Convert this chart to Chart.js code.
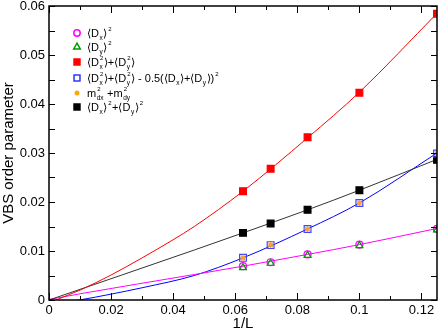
<!DOCTYPE html>
<html>
<head>
<meta charset="UTF-8">
<title>VBS order parameter</title>
<script src="https://cdn.jsdelivr.net/npm/chart.js"></script>
<style>
  html, body { margin: 0; padding: 0; background: #fff; }
  #wrap { width: 443px; height: 331px; }
</style>
</head>
<body>
<div id="wrap"><canvas id="chart" width="443" height="331"></canvas></div>
<script>
// measured points, x = 1/L
const invL = [0.0625, 0.0714, 0.0833, 0.1, 0.125];
const dxSq = [0.0069, 0.0077, 0.0093, 0.0113, 0.0145];     // <Dx>^2, magenta circles
const dySq = [0.0066, 0.0075, 0.0091, 0.0111, 0.0143];     // <Dy>^2, green triangles
const d2Sum = [0.0222, 0.0268, 0.0332, 0.0423, 0.0584];    // <Dx^2>+<Dy^2>, red
const d2Corr = [0.0086, 0.0112, 0.0145, 0.0198, 0.0299];   // blue open squares
const mSq = [0.0086, 0.0112, 0.0145, 0.0198, 0.0299];      // m_dx^2+m_dy^2, orange
const dSqSum = [0.0137, 0.0156, 0.0184, 0.0224, 0.0286];   // <Dx>^2+<Dy>^2, black

// fit curves
const redFitX = [0, 0.0023, 0.0103, 0.02, 0.03, 0.04, 0.0468, 0.0625, 0.0833, 0.1, 0.125];
const redFitY = [-0.0007, 0, 0.0021, 0.0051, 0.0086, 0.0123, 0.0150, 0.0222, 0.0331, 0.0424, 0.0585];
const blackFitX = [0, 0.0468, 0.0625, 0.0833, 0.1, 0.125];
const blackFitY = [0, 0.0102, 0.0137, 0.0184, 0.0224, 0.0287];
const magFitX = [0, 0.0103, 0.0468, 0.0625, 0.0833, 0.1, 0.125];
const magFitY = [0.0001, 0.0013, 0.0052, 0.0069, 0.0093, 0.0113, 0.0146];
const blueFitX = [0, 0.0098, 0.02, 0.03, 0.0468, 0.0625, 0.0833, 0.1, 0.125];
const blueFitY = [-0.0009, 0, 0.0012, 0.0025, 0.0050, 0.0086, 0.0145, 0.0198, 0.0300];

const xTicks = [0, 0.02, 0.04, 0.06, 0.08, 0.1, 0.12];
const yTicks = [0, 0.01, 0.02, 0.03, 0.04, 0.05, 0.06];

const FONT = "'Liberation Sans', Arial, Helvetica, sans-serif";

const pts = (xs, ys) => xs.map((x, i) => ({ x: x, y: ys[i] }));

function fitLine(xs, ys, color) {
    return {
        data: pts(xs, ys),
        borderColor: color,
        borderWidth: 1,
        pointRadius: 0,
        cubicInterpolationMode: 'monotone',
        showLine: true,
        order: 10
    };
}

function markers(ys, style, radius, fill, stroke, order) {
    return {
        data: pts(invL, ys),
        showLine: false,
        pointStyle: style,
        pointRadius: radius,
        pointBackgroundColor: fill,
        pointBorderColor: stroke,
        pointBorderWidth: 1.2,
        order: order
    };
}

// legend entries: plain text, sub, sup pieces
const legendRows = [
    { style: 'circle', color: '#ff00ff', fill: false, r: 3.2, y: 33,
      parts: [{t: '\u27e8D'}, {sub: 'x'}, {t: '\u27e9'}, {sup: '2'}] },
    { style: 'triangle', color: '#009900', fill: false, r: 3.8, y: 47,
      parts: [{t: '\u27e8D'}, {sub: 'y'}, {t: '\u27e9'}, {sup: '2'}] },
    { style: 'rect', color: '#ff0000', fill: true, r: 4.2, y: 62,
      parts: [{t: '\u27e8D'}, {sub: 'x', sup: '2'}, {t: '\u27e9+\u27e8D'}, {sub: 'y', sup: '2'}, {t: '\u27e9'}] },
    { style: 'rect', color: '#3333ff', fill: false, r: 4.2, y: 78,
      parts: [{t: '\u27e8D'}, {sub: 'x', sup: '2'}, {t: '\u27e9+\u27e8D'}, {sub: 'y', sup: '2'}, {t: '\u27e9 - 0.5(\u27e8D'},
              {sub: 'x'}, {t: '\u27e9+\u27e8D'}, {sub: 'y'}, {t: '\u27e9)'}, {sup: '2'}] },
    { style: 'star', color: '#ffa500', fill: true, r: 2.5, y: 93,
      parts: [{t: 'm'}, {sub: 'dx', sup: '2'}, {t: ' +m'}, {sub: 'dy', sup: '2'}] },
    { style: 'rect', color: '#000000', fill: true, r: 4.2, y: 107,
      parts: [{t: '\u27e8D'}, {sub: 'x'}, {t: '\u27e9'}, {sup: '2'}, {t: '+\u27e8D'}, {sub: 'y'}, {t: '\u27e9'}, {sup: '2'}] }
];

function drawRich(ctx, parts, x, y) {
    ctx.textBaseline = 'alphabetic';
    ctx.textAlign = 'left';
    const base = y + 4;
    for (const p of parts) {
        if (p.t !== undefined) {
            ctx.font = '11px ' + FONT;
            ctx.fillText(p.t, x, base);
            x += ctx.measureText(p.t).width;
            continue;
        }
        let w = 0;
        if (p.sub) {
            ctx.font = '6.5px ' + FONT;
            ctx.fillText(p.sub, x + 0.5, base + 2.5);
            w = Math.max(w, ctx.measureText(p.sub).width);
        }
        if (p.sup) {
            ctx.font = '6px ' + FONT;
            ctx.fillText(p.sup, x + 1, base - 6);
            w = Math.max(w, ctx.measureText(p.sup).width + 0.5);
        }
        x += w + 1;
    }
}

const framePlugin = {
    id: 'frame',
    afterDraw(chart) {
        const ctx = chart.ctx;
        const a = chart.chartArea;
        const xs = chart.scales.x, ys = chart.scales.y;
        ctx.save();
        ctx.strokeStyle = '#000';
        ctx.lineWidth = 1;
        ctx.beginPath();
        // x ticks, inward on bottom and top
        for (let v = 0; v <= 0.1251; v += 0.01) {
            const px = Math.round(xs.getPixelForValue(v)) + 0.5;
            const major = Math.round(v * 100) % 2 === 0;
            const len = major ? 7 : 4;
            ctx.moveTo(px, a.bottom); ctx.lineTo(px, a.bottom - len);
            ctx.moveTo(px, a.top); ctx.lineTo(px, a.top + len);
        }
        // y ticks, inward on left and right
        for (let v = 0; v <= 0.0601; v += 0.005) {
            const py = Math.round(ys.getPixelForValue(v)) + 0.5;
            const len = 6;
            ctx.moveTo(a.left, py); ctx.lineTo(a.left + len, py);
            ctx.moveTo(a.right, py); ctx.lineTo(a.right - len, py);
        }
        ctx.stroke();
        ctx.lineWidth = 1.5;
        ctx.strokeRect(a.left, a.top, a.right - a.left, a.bottom - a.top);

        // legend
        for (const row of legendRows) {
            const mx = 77, my = row.y;
            ctx.strokeStyle = row.color;
            ctx.fillStyle = row.fill ? row.color : '#ffffff';
            Chart.helpers.drawPoint(ctx, {
                pointStyle: row.style, radius: row.r, rotation: 0,
                borderWidth: row.style === 'star' ? 1.5 : 1.3
            }, mx, my);
            ctx.fillStyle = '#000';
            drawRich(ctx, row.parts, 87, my);
        }
        ctx.restore();
    }
};

const datasets = [
    fitLine(redFitX, redFitY, '#ff0000'),
    fitLine(blackFitX, blackFitY, '#333333'),
    fitLine(magFitX, magFitY, '#ff00ff'),
    fitLine(blueFitX, blueFitY, '#0000ff'),
    markers(dSqSum, 'rect', 4.8, '#000000', '#000000', 6),
    markers(d2Sum, 'rect', 4.8, '#ff0000', '#ff0000', 5),
    markers(d2Corr, 'rect', 4.8, 'rgba(0,0,0,0)', '#4444ff', 4),
    markers(mSq, 'star', 3, '#ffa500', '#f5a030', 3),
    markers(dxSq, 'circle', 3.5, 'rgba(0,0,0,0)', '#ff00ff', 2),
    markers(dySq, 'triangle', 4, 'rgba(0,0,0,0)', '#009900', 1)
];

new Chart(document.getElementById('chart'), {
    type: 'scatter',
    data: { datasets: datasets },
    options: {
        responsive: false,
        animation: false,
        events: [],
        layout: { padding: { top: 5, right: 4, left: 0, bottom: 0 } },
        plugins: { legend: { display: false }, tooltip: { enabled: false } },
        scales: {
            x: {
                type: 'linear',
                min: 0,
                max: 0.125,
                grid: { display: false, drawTicks: false },
                border: { display: false },
                afterFit: s => { s.height = 31; s.paddingLeft = 0; s.paddingRight = 0; },
                afterBuildTicks: s => { s.ticks = xTicks.map(v => ({ value: v })); },
                ticks: {
                    padding: 3,
                    maxRotation: 0,
                    color: '#000',
                    font: { family: FONT, size: 13 },
                    callback: v => String(parseFloat(v.toFixed(3)))
                },
                title: {
                    display: true,
                    text: '1/L',
                    color: '#000',
                    font: { family: FONT, size: 15, lineHeight: 1 },
                    padding: { top: 0, bottom: 0 }
                }
            },
            y: {
                type: 'linear',
                min: 0,
                max: 0.06,
                grid: { display: false, drawTicks: false },
                border: { display: false },
                afterFit: s => { s.width = 49; s.paddingTop = 0; s.paddingBottom = 0; },
                afterBuildTicks: s => { s.ticks = yTicks.map(v => ({ value: v })); },
                ticks: {
                    padding: 4,
                    color: '#000',
                    font: { family: FONT, size: 13 },
                    callback: v => v === 0 ? '0' : v.toFixed(2)
                },
                title: {
                    display: true,
                    text: 'VBS order parameter',
                    color: '#000',
                    font: { family: FONT, size: 15, lineHeight: 1 },
                    padding: { top: 1, bottom: 0 }
                }
            }
        }
    },
    plugins: [framePlugin]
});
</script>
</body>
</html>
